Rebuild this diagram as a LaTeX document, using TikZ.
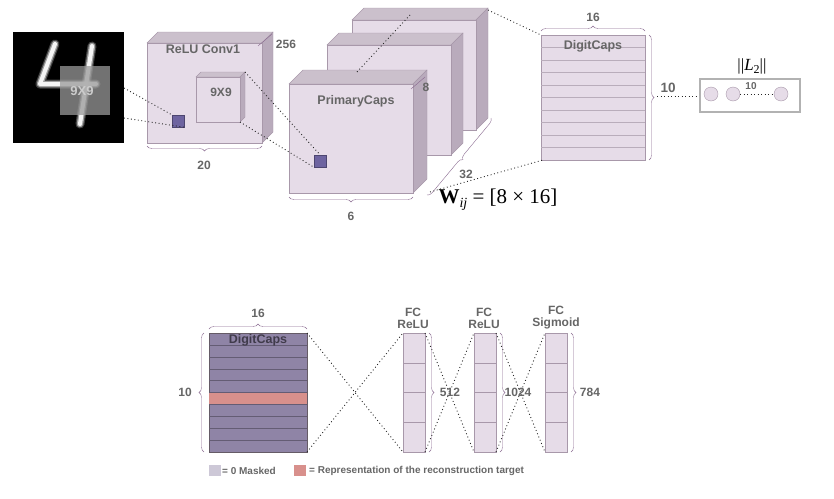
\documentclass[tikz,border=0pt]{standalone}
\usepackage{fontspec}
\setmainfont{Liberation Sans}
\newfontfamily\serifw{Liberation Serif}
\usetikzlibrary{decorations.pathreplacing}
\definecolor{txt}{HTML}{666666}
\definecolor{fr}{HTML}{E6DCE8}
\definecolor{tp}{HTML}{CBC0CC}
\definecolor{sd}{HTML}{B9ABBC}
\definecolor{edge}{HTML}{A898AA}
\definecolor{br}{HTML}{8A6A90}
\definecolor{blu}{HTML}{6E64A0}
\definecolor{msk}{HTML}{8F84A6}
\definecolor{red}{HTML}{D8908C}
\newcommand\mycube[5]{%
 \fill[tp,draw=edge] (#1,#2)--(#1+#5,#2-#5)--(#3+#5,#2-#5)--(#3,#2)--cycle;
 \fill[sd,draw=edge] (#3,#2)--(#3+#5,#2-#5)--(#3+#5,#4-#5)--(#3,#4)--cycle;
 \fill[fr,draw=edge] (#1,#2) rectangle (#3,#4);}
\begin{document}
\begin{tikzpicture}[x=1pt,y=-1pt,
  lab/.style={text=txt,font=\bfseries\fontsize{12.5}{14}\selectfont,inner sep=0},
  num/.style={text=txt,font=\bfseries\fontsize{12}{14}\selectfont,inner sep=0},
  dots/.style={dash pattern=on 0.9pt off 2.6pt,line width=0.9pt,black!85},
  brc/.style={draw=br,decorate,decoration={brace,amplitude=5pt}},
  blk/.style={fill=blu,draw=blu!70!black}]
\useasboundingbox (0,0) rectangle (834,498);
% input image
\fill[black] (13,32) rectangle (124,143);
\foreach \w/\o in {9/0.25,6.5/0.5,4/0.9}{
\draw[white,line width=\w pt,line cap=round,line join=round,opacity=\o] (55,44)--(40,84)--(96,84);
\draw[white,line width=\w pt,line cap=round,opacity=\o] (92,46)--(80,124);}
\fill[gray!80,opacity=0.75] (60,66) rectangle (110,115);
\node[num,font=\bfseries\fontsize{13}{14}\selectfont,text=white!80!black] (k1) at (82,91) {9X9};
\coordinate (i1) at (124,88); \coordinate (i2) at (124,118);
% conv1
\mycube{147}{43}{262}{143}{11}
\node[lab] (c1) at (203,49) {ReLU Conv1};
\node[num] (n256) at (286,44) {256};
\draw[br] (258,46)--(272,34);
\mycube{196}{77}{240}{122}{5}
\node[num] (k2) at (221,92) {9X9};
\node[blk,minimum size=12pt,inner sep=0] (b1) at (178,121) {};
\draw[dots] (i1)--(b1.north west);
\draw[dots] (i2)--(b1.south east);
\draw[brc] (262,146)--(147,146);
\node[num] (n20) at (204,165) {20};
% primary caps
\mycube{352}{20}{476}{130}{12}
\mycube{327}{45}{451}{155}{12}
\mycube{289}{84}{413}{193}{14}
\node[lab] (pc) at (356,101) {PrimaryCaps};
\node[num] (n8) at (426,87) {8};
\draw[br] (411,89)--(425,77);
\node[blk,minimum size=12pt,inner sep=0] (b2) at (320,161) {};
\coordinate (k2a) at (245,72); \coordinate (k2b) at (240,122);
\draw[dots] (k2a)--(b2.north);
\draw[dots] (k2b)--(b2.south west);
\coordinate (p1) at (357,72); \coordinate (p2) at (410,15);
\draw[dots] (p1)--(p2);
\draw[brc] (413,197)--(289,197);
\node[num] (n6) at (351,216) {6};
\draw[brc] (491,118)--(427,195);
\node[num] (n32) at (466,174) {32};
% digit caps
\fill[fr,draw=edge] (541,35) rectangle (645,160);
\foreach \i in {1,...,9} \draw[edge!80] (541,35+12.5*\i)--(645,35+12.5*\i);
\node[lab] (dc) at (593,46) {DigitCaps};
\coordinate (d1) at (541,35); \coordinate (d2) at (543,160);
\coordinate (p3) at (488,10); \coordinate (p4) at (430,192);
\draw[dots] (p3)--(d1);
\draw[dots] (p4)--(d2);
\draw[brc] (541,31)--(645,31);
\node[num] (n16) at (593,17) {16};
\draw[brc] (649,35)--(649,160);
\node[num,font=\bfseries\fontsize{13.5}{14}\selectfont] (n10) at (668,88) {10};
\node[text=black,font=\serifw\fontsize{17}{18}\selectfont,inner sep=0] (l2) at (752,66) {||\textit{L}\raisebox{-3pt}{\fontsize{12}{12}\selectfont 2}||};
\draw[line width=1.2pt,black!30,fill=white] (700,79) rectangle (800,112);
\foreach \x/\n in {711/c1,733/c2,781/c3}
  \node[circle,fill=fr,draw=edge,minimum size=14pt,inner sep=0] (\n) at (\x,94) {};
\node[num,font=\bfseries\fontsize{10}{10}\selectfont] (n10b) at (751,86) {10};
\draw[dots] (c2)--(c3);
\coordinate (q1) at (657,96); \coordinate (q2) at (698,96);
\draw[dots] (q1)--(q2);
\node[font=\serifw\fontsize{21}{22}\selectfont,inner sep=0] (w) at (498,200) {\textbf{W}\raisebox{-4pt}{\fontsize{14}{14}\selectfont\textit{ij}} = [8 × 16]};
% bottom digitcaps
\fill[msk,draw=edge!60!black] (209,333) rectangle (307,452);
\fill[red] (209,393) rectangle (307,405);
\foreach \i in {1,...,9} \draw[msk!70!black] (209,333+11.9*\i)--(307,333+11.9*\i);
\node[lab,text=black!55!msk] (dc2) at (258,340) {DigitCaps};
\draw[brc] (209,329)--(307,329);
\node[num] (m16) at (258,313) {16};
\draw[brc] (204,452)--(204,333);
\node[num] (m10) at (185,392) {10};
% FC layers
\foreach \x/\n in {403/f1,474/f2,545/f3}{
  \fill[fr,draw=edge] (\x,333) rectangle (\x+22,452);
  \foreach \i in {1,2,3} \draw[edge] (\x,333+29.75*\i)--(\x+22,333+29.75*\i);
  \coordinate (\n tl) at (\x,333); \coordinate (\n bl) at (\x,452);
  \coordinate (\n tr) at (\x+22,333); \coordinate (\n br) at (\x+22,452);
  \draw[brc] (\x+26,333)--(\x+26,452);}
\coordinate (dtr) at (307,333); \coordinate (dbr) at (307,452);
\draw[dots] (dtr)--(f1bl); \draw[dots] (dbr)--(f1tl);
\draw[dots] (f1tr)--(f2bl); \draw[dots] (f1br)--(f2tl);
\draw[dots] (f2tr)--(f3bl); \draw[dots] (f2br)--(f3tl);
\node[num,align=center] (fc1) at (413,318) {FC\\[-2pt]ReLU};
\node[num,align=center] (fc2) at (484,318) {FC\\[-2pt]ReLU};
\node[num,align=center] (fc3) at (556,318) {FC\\[-2pt]Sigmoid};
\node[num] (s1) at (450,392) {512};
\node[num] (s2) at (518,392) {1024};
\node[num] (s3) at (590,392) {784};
% legend
\fill[msk!45!white] (209,465) rectangle (221,476);
\node[num,anchor=west,font=\bfseries\fontsize{10}{10}\selectfont] (lg1) at (222,471) {= 0 Masked};
\fill[red] (294,465) rectangle (306,476);
\node[num,anchor=west,font=\bfseries\fontsize{10}{10}\selectfont] (lg2) at (309,471) {= Representation of the reconstruction target};
\end{tikzpicture}
\end{document}
